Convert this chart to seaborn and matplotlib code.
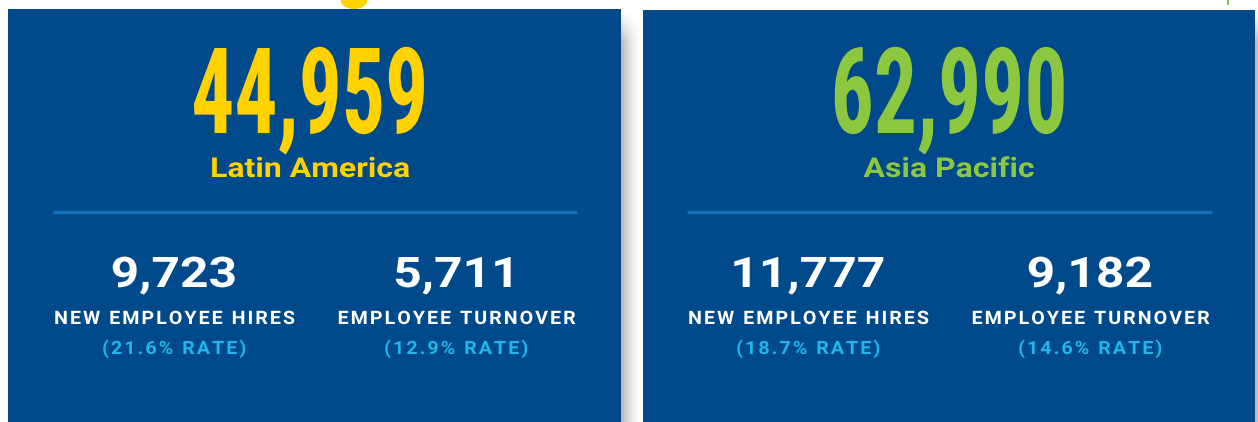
import numpy as np
import pandas as pd
import seaborn as sns
import matplotlib.pyplot as plt
from matplotlib.patches import Rectangle, Ellipse
from matplotlib.patheffects import AbstractPathEffect
from matplotlib.transforms import Affine2D
from matplotlib.textpath import TextPath
from matplotlib.font_manager import FontProperties, fontManager

# data
regions = ['Latin America', 'Asia Pacific']
totals = [44959, 62990]
hires = [9723, 11777]
hire_rates = [21.6, 18.7]
turnover = [5711, 9182]
turnover_rates = [12.9, 14.6]
region_colors = ['#FFD200', '#8DC63F']

df = pd.DataFrame({'region': regions, 'total': totals, 'hires': hires,
                   'hire_rate': hire_rates, 'turnover': turnover,
                   'turnover_rate': turnover_rates, 'color': region_colors})

PANEL = '#00498A'
LINE = '#1170B8'
RATE = '#1FB6EC'
DPI = 100

sns.set_theme(style='white')

names = {f.name for f in fontManager.ttflist}
def pick(*cands):
    for c in cands:
        if c in names:
            return c
    return 'DejaVu Sans'

big_font = pick('Liberation Sans Narrow', 'Roboto Condensed', 'DejaVu Sans')
txt_font = pick('Roboto', 'DejaVu Sans')


def track(s, sp='\u200a'):
    # letter spacing, as in the printed labels
    return sp.join(s)


class Squeeze(AbstractPathEffect):
    # horizontal stretch of the glyphs around their ink centre
    def __init__(self, sx):
        super().__init__()
        self.sx = sx

    def draw_path(self, renderer, gc, tpath, affine, rgbFace=None):
        ext = tpath.get_extents()
        cx = (ext.x0 + ext.x1) / 2
        t = Affine2D().translate(-cx, 0).scale(self.sx, 1).translate(cx, 0) + affine
        renderer.draw_path(gc, tpath, t, rgbFace)


def style(family, cap_px, sample, sample_w):
    fp = FontProperties(family=[family, 'DejaVu Sans'], weight='bold')
    cap = TextPath((0, 0), 'H', size=100, prop=fp).get_extents().height / 100
    em = cap_px / cap
    w = TextPath((0, 0), sample, size=em, prop=fp).get_extents().width
    return dict(fp=fp, pt=em * 72 / DPI, sx=sample_w / w)


st_big = style(big_font, 85, '44,959', 230)
st_reg = style(txt_font, 19.5, 'Latin America', 197)
st_num = style(txt_font, 30, '9,723', 122)
st_lab = style(txt_font, 13.2, track('NEW EMPLOYEE HIRES'), 239)
st_rate = style(txt_font, 13, track('(21.6% RATE)'), 142)


def put(ax, x, y, s, color, st):
    t = ax.text(x, y, s, color=color, ha='center', va='baseline',
                fontproperties=st['fp'], fontsize=st['pt'])
    t.set_path_effects([Squeeze(st['sx'])])
    return t


fig = plt.figure(figsize=(12.58, 4.22), dpi=DPI)
fig.patch.set_facecolor('white')
ax = fig.add_axes([0, 0, 1, 1])
ax.set_facecolor('white')

# shadows to the right of the panels
nx, ny = 60, 200
gx = np.linspace(1, 0, nx) ** 1.6
gy = np.clip(np.linspace(0, 14, ny), 0, 1)
alpha = np.outer(gy, gx) * 0.38
img = np.zeros((ny, nx, 4))
img[..., :3] = 0.25
img[..., 3] = alpha
ax.imshow(img, extent=(621, 642, 422, 12), origin='upper', aspect='auto', zorder=0)
ax.imshow(img, extent=(1255, 1276, 422, 12), origin='upper', aspect='auto', zorder=0)

panels = [(8, 9, 613), (643, 10, 612)]
big_cx = [310, 949]
cols = [[174, 456], [808, 1090]]
lines = [(53, 577), (687, 1212)]

for i, row in df.iterrows():
    x0, y0, w = panels[i]
    ax.add_patch(Rectangle((x0, y0), w, 422 - y0, color=PANEL, lw=0, zorder=1))
    ax.plot(lines[i], [212, 212], color=LINE, lw=2.4, solid_capstyle='butt', zorder=2)
    put(ax, big_cx[i], 133, f"{row['total']:,}", row['color'], st_big)
    put(ax, big_cx[i], 177, row['region'], row['color'], st_reg)
    cl, cr = cols[i]
    put(ax, cl, 287, f"{row['hires']:,}", 'white', st_num)
    put(ax, cl, 324, track('NEW EMPLOYEE HIRES'), 'white', st_lab)
    put(ax, cl, 354, track(f"({row['hire_rate']:.1f}% RATE)"), RATE, st_rate)
    put(ax, cr, 287, f"{row['turnover']:,}", 'white', st_num)
    put(ax, cr, 324, track('EMPLOYEE TURNOVER'), 'white', st_lab)
    put(ax, cr, 354, track(f"({row['turnover_rate']:.1f}% RATE)"), RATE, st_rate)

# bits of decoration cut off at the top edge
ax.add_patch(Ellipse((354, 1), 26, 16, color='#FFD200', lw=0, zorder=0))
ax.plot([1228, 1228], [0, 4], color='#8DC63F', lw=1.5, zorder=0)

ax.set_xlim(0, 1258)
ax.set_ylim(422, 0)
ax.axis('off')
fig.savefig('out.png', dpi=DPI)
